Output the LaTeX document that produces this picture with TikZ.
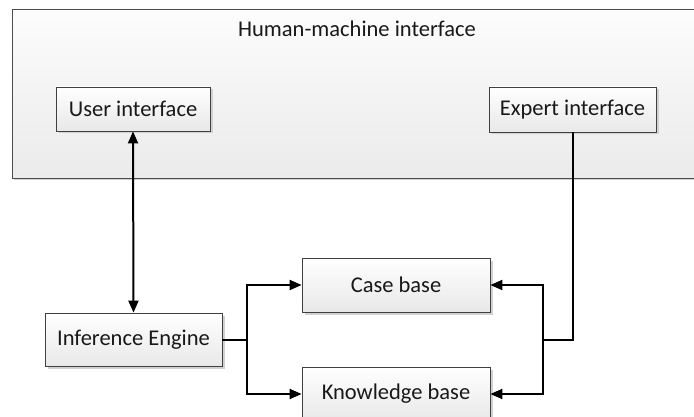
\documentclass[tikz,border=0pt]{standalone}
\usepackage{fontspec}
\setmainfont{Carlito}
\usetikzlibrary{arrows.meta,shadows,calc}
\tikzset{
  boxstyle/.style={draw=black!75, line width=0.8pt, top color=white, bottom color=black!9,
    drop shadow={shadow xshift=2.5pt, shadow yshift=-2.5pt, fill=black!18, opacity=1},
    inner sep=0pt, font=\fontsize{22.5}{26}\selectfont, text=black!90},
  outerbox/.style={draw=black!70, line width=0.8pt, top color=black!1, bottom color=black!8,
    drop shadow={shadow xshift=2pt, shadow yshift=-2pt, fill=black!18, opacity=1}},
  conn/.style={line width=2pt, black},
  tip/.style={-{Triangle[length=12pt,width=10pt]}},
  tips/.style={{Triangle[length=12pt,width=10pt]}-{Triangle[length=12pt,width=10pt]}},
}
\begin{document}
\begin{tikzpicture}[x=1pt,y=-1pt]
\useasboundingbox (0,0) rectangle (694,417);
\fill[white] (0,0) rectangle (694,417);
% outer human-machine interface box
\node[outerbox, minimum width=688pt, minimum height=169pt, inner sep=0pt] (hmi) at (356,93.5) {};
\node[font=\fontsize{22.5}{26}\selectfont, text=black!90] (title) at (357,29) {Human-machine interface};
% boxes
\node[boxstyle, minimum width=154pt, minimum height=44pt] (user) at (133,109) {User interface};
\node[boxstyle, minimum width=167pt, minimum height=45pt] (expert) at (572.5,109.5) {Expert interface};
\node[boxstyle, minimum width=177pt, minimum height=53pt] (inf) at (133.5,339.5) {Inference Engine};
\node[boxstyle, minimum width=188pt, minimum height=54pt] (case) at (396,285) {Case base};
\node[boxstyle, minimum width=188pt, minimum height=54pt] (kb) at (396,394) {Knowledge base};
% junction coordinates
\coordinate (lj) at (247,340);
\coordinate (rj) at (543,340);
% connectors
\draw[conn, tips] (user.south) -- (inf.north);
\draw[conn] (inf.east |- lj) -- (lj);
\draw[conn, tip] (lj) |- (case.west);
\draw[conn, tip] (lj) |- (kb.west);
\draw[conn] (expert.south) |- (rj);
\draw[conn, tip] (rj) |- (case.east);
\draw[conn, tip] (rj) |- (kb.east);
\end{tikzpicture}
\end{document}
